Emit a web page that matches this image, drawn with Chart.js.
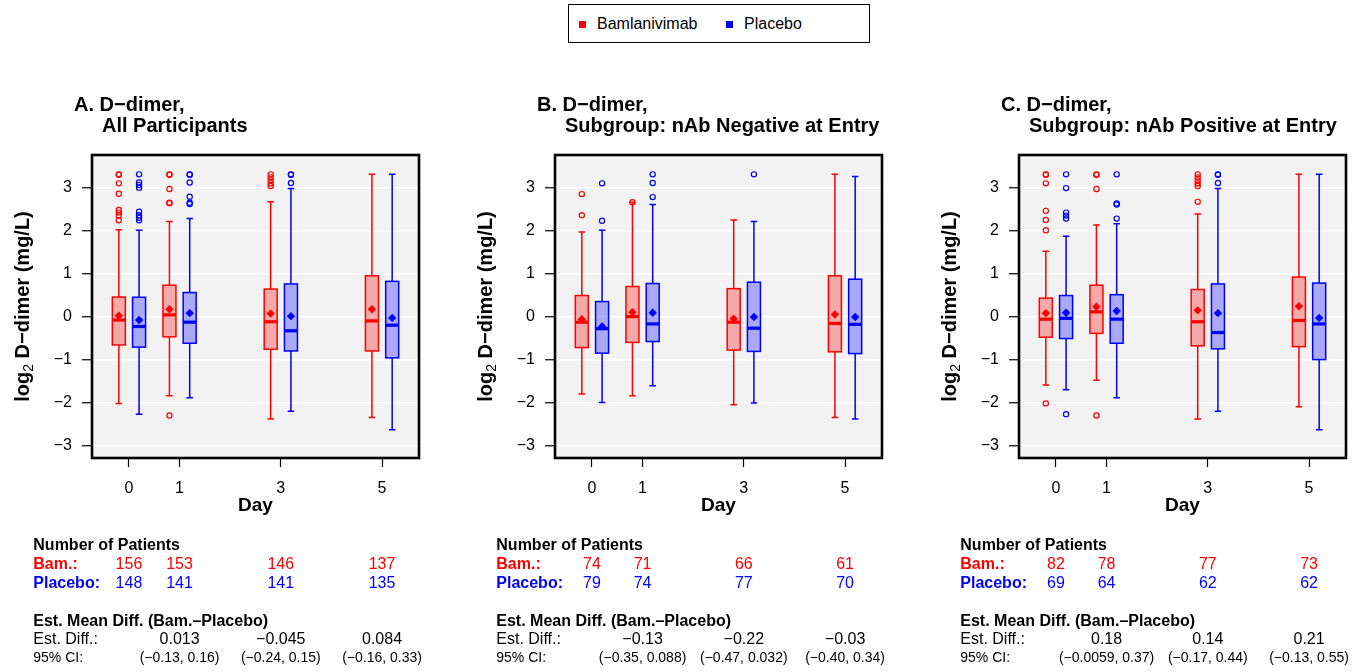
<!DOCTYPE html>
<html lang="en">
<head>
<meta charset="UTF-8">
<title>D-dimer por dia</title>
<script src="https://cdn.jsdelivr.net/npm/chart.js"></script>
<style>
  body { margin: 0; background: #fff; width: 1364px; height: 672px; overflow: hidden; position: relative;
         font-family: "Liberation Sans", Arial, sans-serif; }
  canvas { position: absolute; top: 80px; }
  .legenda { position: absolute; left: 568px; top: 4px; width: 302px; height: 39px; box-sizing: border-box;
             border: 1.5px solid #000; }
  .quad { position: absolute; top: 16px; width: 7px; height: 7px; }
  .txt { position: absolute; top: 11px; font-size: 16px; line-height: 16px; color: #000; white-space: nowrap; }
</style>
</head>
<body>

  <div class="legenda">
    <span class="quad" style="left:10px; background:#ff0000"></span>
    <span class="txt" style="left:28px">Bamlanivimab</span>
    <span class="quad" style="left:157px; background:#0000ff"></span>
    <span class="txt" style="left:175px">Placebo</span>
  </div>

  <canvas id="canvas_a" width="437" height="592" style="left:0px"></canvas>
  <canvas id="canvas_b" width="437" height="592" style="left:463px"></canvas>
  <canvas id="canvas_c" width="437" height="592" style="left:927px"></canvas>

<script>
  // dias e eixos
  var dias = [0, 1, 3, 5];
  var diasDiff = [1, 3, 5];
  var ticksY = [-3, -2, -1, 0, 1, 2, 3];

  // cada linha: [bigode inferior, Q1, mediana, Q3, bigode superior]
  // Painel A - todos
  var caixaA_bam = [[-2.01, -0.65, -0.07, 0.465, 2.03], [-1.83, -0.46, 0.05, 0.74, 2.22], [-2.37, -0.75, -0.11, 0.65, 2.68], [-2.34, -0.79, -0.09, 0.96, 3.32]];
  var caixaA_pbo = [[-2.26, -0.70, -0.22, 0.46, 2.02], [-1.88, -0.61, -0.12, 0.57, 2.29], [-2.19, -0.79, -0.32, 0.77, 2.99], [-2.62, -0.95, -0.19, 0.83, 3.32]];
  var mediaA_bam = [0.03, 0.18, 0.08, 0.18];
  var mediaA_pbo = [-0.07, 0.09, 0.02, -0.02];
  var outA_bam = [[3.32, 3.31, 3.11, 2.87, 2.49, 2.43, 2.36, 2.25], [3.32, 3.31, 2.98, 2.66, 2.65, -2.29], [3.32, 3.25, 3.18, 3.11, 3.05], []];
  var outA_pbo = [[3.32, 3.13, 3.07, 3.01, 2.45, 2.37, 2.31, 2.25], [3.32, 3.31, 3.13, 2.80, 2.66, 2.63], [3.32, 3.31, 3.12], []];
  var nA_bam = [156, 153, 146, 137];
  var nA_pbo = [148, 141, 141, 135];
  var diffA = ['0.013', '\u22120.045', '0.084'];
  var icA = ['(\u22120.13, 0.16)', '(\u22120.24, 0.15)', '(\u22120.16, 0.33)'];

  // Painel B - nAb negativo
  var caixaB_bam = [[-1.79, -0.71, -0.12, 0.50, 1.98], [-1.83, -0.59, 0.01, 0.71, 2.67], [-2.04, -0.77, -0.12, 0.66, 2.26], [-2.34, -0.81, -0.15, 0.96, 3.32]];
  var caixaB_pbo = [[-1.99, -0.84, -0.27, 0.36, 2.02], [-1.60, -0.57, -0.16, 0.78, 2.62], [-2.00, -0.80, -0.26, 0.81, 2.22], [-2.37, -0.85, -0.17, 0.88, 3.27]];
  var mediaB_bam = [-0.05, 0.11, -0.04, 0.06];
  var mediaB_pbo = [-0.22, 0.10, 0.00, 0.00];
  var outB_bam = [[2.86, 2.37], [2.67], [], []];
  var outB_pbo = [[3.11, 2.24], [3.32, 3.12, 2.79], [3.32], []];
  var nB_bam = [74, 71, 66, 61];
  var nB_pbo = [79, 74, 77, 70];
  var diffB = ['\u22120.13', '\u22120.22', '\u22120.03'];
  var icB = ['(\u22120.35, 0.088)', '(\u22120.47, 0.032)', '(\u22120.40, 0.34)'];

  // Painel C - nAb positivo
  var caixaC_bam = [[-1.58, -0.47, -0.05, 0.44, 1.53], [-1.47, -0.38, 0.12, 0.74, 2.14], [-2.37, -0.67, -0.11, 0.64, 2.40], [-2.09, -0.69, -0.08, 0.93, 3.32]];
  var caixaC_pbo = [[-1.69, -0.50, -0.03, 0.50, 1.88], [-1.88, -0.61, -0.05, 0.52, 2.17], [-2.19, -0.74, -0.36, 0.77, 2.99], [-2.62, -0.99, -0.16, 0.79, 3.32]];
  var mediaC_bam = [0.09, 0.24, 0.155, 0.25];
  var mediaC_pbo = [0.10, 0.14, 0.09, -0.02];
  var outC_bam = [[3.32, 3.31, 3.11, 2.47, 2.26, 2.02, -2.01], [3.32, 3.31, 2.98, -2.29], [3.32, 3.25, 3.18, 3.11, 3.05, 2.68], []];
  var outC_pbo = [[3.32, 3.00, 2.43, 2.36, 2.29, -2.26], [3.32, 2.64, 2.62, 2.29], [3.32, 3.31, 3.12], []];
  var nC_bam = [82, 78, 77, 73];
  var nC_pbo = [69, 64, 62, 62];
  var diffC = ['0.18', '0.14', '0.21'];
  var icC = ['(\u22120.0059, 0.37)', '(\u22120.17, 0.44)', '(\u22120.13, 0.55)'];

  var titulos = [
    ['A. D\u2212dimer,', 'All Participants'],
    ['B. D\u2212dimer,', 'Subgroup: nAb Negative at Entry'],
    ['C. D\u2212dimer,', 'Subgroup: nAb Positive at Entry']
  ];

  var FONTE = '"Liberation Sans", Arial, sans-serif';
  var VERMELHO = '#ff0000';
  var AZUL = '#0000ff';
  var desloc = 0.2;      // deslocamento de cada grupo em dias
  var largCaixa = 0.257; // largura da caixa em dias

  Chart.defaults.font.family = FONTE;
  Chart.defaults.color = '#000';

  function pontos(lista, off) {
    var r = [];
    for (var i = 0; i < lista.length; i++) {
      for (var j = 0; j < lista[i].length; j++) r.push({ x: dias[i] + off, y: lista[i][j] });
    }
    return r;
  }

  function pontosMedia(lista, off) {
    return lista.map(function (m, i) { return { x: dias[i] + off, y: m }; });
  }

  function desenhaCaixas(chart, caixas, off, cor, preench) {
    var ctx = chart.ctx, x = chart.scales.x, y = chart.scales.y;
    for (var i = 0; i < caixas.length; i++) {
      var c = caixas[i];
      var xc = x.getPixelForValue(dias[i] + off);
      var meia = x.getPixelForValue(dias[i] + off + largCaixa / 2) - xc;
      var yLo = y.getPixelForValue(c[0]), yQ1 = y.getPixelForValue(c[1]), yMed = y.getPixelForValue(c[2]);
      var yQ3 = y.getPixelForValue(c[3]), yHi = y.getPixelForValue(c[4]);
      ctx.save();
      ctx.strokeStyle = cor;
      ctx.lineWidth = 1.5;
      ctx.beginPath();
      ctx.moveTo(xc, yQ3); ctx.lineTo(xc, yHi);
      ctx.moveTo(xc, yQ1); ctx.lineTo(xc, yLo);
      ctx.moveTo(xc - meia / 2, yHi); ctx.lineTo(xc + meia / 2, yHi);
      ctx.moveTo(xc - meia / 2, yLo); ctx.lineTo(xc + meia / 2, yLo);
      ctx.stroke();
      ctx.fillStyle = preench;
      ctx.fillRect(xc - meia, yQ3, 2 * meia, yQ1 - yQ3);
      ctx.strokeRect(xc - meia, yQ3, 2 * meia, yQ1 - yQ3);
      ctx.lineWidth = 3.2;
      ctx.beginPath();
      ctx.moveTo(xc - meia, yMed); ctx.lineTo(xc + meia, yMed);
      ctx.stroke();
      ctx.restore();
    }
  }

  function criarPainel(id, titulo, caixaBam, caixaPbo, mediaBam, mediaPbo, outBam, outPbo, nBam, nPbo, diff, ic) {
    var canvas = document.getElementById(id);

    var painelPlugin = {
      id: 'painel',
      beforeDraw: function (chart) {
        var a = chart.chartArea, ctx = chart.ctx;
        ctx.save();
        ctx.fillStyle = '#f2f2f2';
        ctx.fillRect(a.left, a.top, a.right - a.left, a.bottom - a.top);
        ctx.restore();
      },
      beforeDatasetsDraw: function (chart) {
        var ctx = chart.ctx, a = chart.chartArea;
        ctx.save();
        ctx.beginPath();
        ctx.rect(a.left, a.top, a.right - a.left, a.bottom - a.top);
        ctx.clip();
        desenhaCaixas(chart, caixaBam, -desloc, VERMELHO, 'rgba(255,0,0,0.3)');
        desenhaCaixas(chart, caixaPbo, desloc, AZUL, 'rgba(0,0,255,0.3)');
        ctx.restore();
      },
      afterDraw: function (chart) {
        var ctx = chart.ctx, a = chart.chartArea, x = chart.scales.x;
        ctx.save();
        // moldura
        ctx.strokeStyle = '#000';
        ctx.lineWidth = 2.6;
        ctx.strokeRect(a.left, a.top, a.right - a.left, a.bottom - a.top);

        // titulo
        ctx.fillStyle = '#000';
        ctx.textAlign = 'left';
        ctx.textBaseline = 'alphabetic';
        ctx.font = 'bold 20px ' + FONTE;
        ctx.fillText(titulo[0], a.left - 18, 30.5);
        ctx.fillText(titulo[1], a.left + 10, 51.5);

        // eixo x
        ctx.textAlign = 'center';
        ctx.font = 'bold 19px ' + FONTE;
        ctx.fillText('Day', (a.left + a.right) / 2, 430.5);

        // eixo y com subscrito
        ctx.save();
        ctx.translate(a.left - 63.5, (a.top + a.bottom) / 2);
        ctx.rotate(-Math.PI / 2);
        ctx.textAlign = 'left';
        ctx.font = 'bold 20px ' + FONTE;
        var w1 = ctx.measureText('log').width;
        var w3 = ctx.measureText(' D\u2212dimer (mg/L)').width;
        ctx.font = '14px ' + FONTE;
        var w2 = ctx.measureText('2').width;
        var x0 = -(w1 + w2 + w3) / 2;
        ctx.font = 'bold 20px ' + FONTE;
        ctx.fillText('log', x0, 0);
        ctx.font = '14px ' + FONTE;
        ctx.fillText('2', x0 + w1, 4);
        ctx.font = 'bold 20px ' + FONTE;
        ctx.fillText(' D\u2212dimer (mg/L)', x0 + w1 + w2, 0);
        ctx.restore();

        // tabela
        var esq = a.left - 58.7;
        ctx.textAlign = 'left';
        ctx.font = 'bold 16px ' + FONTE;
        ctx.fillStyle = '#000';
        ctx.fillText('Number of Patients', esq, 470);
        ctx.fillText('Est. Mean Diff. (Bam.\u2013Placebo)', esq, 546);
        ctx.fillStyle = VERMELHO;
        ctx.fillText('Bam.:', esq, 489);
        ctx.fillStyle = AZUL;
        ctx.fillText('Placebo:', esq, 507.7);
        ctx.font = '16px ' + FONTE;
        ctx.fillStyle = '#000';
        ctx.fillText('Est. Diff.:', esq, 564);
        ctx.font = '14px ' + FONTE;
        ctx.fillText('95% CI:', esq, 581.7);

        ctx.textAlign = 'center';
        ctx.font = '16px ' + FONTE;
        for (var i = 0; i < dias.length; i++) {
          var px = x.getPixelForValue(dias[i]);
          ctx.fillStyle = VERMELHO;
          ctx.fillText(String(nBam[i]), px, 489);
          ctx.fillStyle = AZUL;
          ctx.fillText(String(nPbo[i]), px, 507.7);
        }
        ctx.fillStyle = '#000';
        for (var k = 0; k < diasDiff.length; k++) {
          var pd = x.getPixelForValue(diasDiff[k]);
          ctx.font = '16px ' + FONTE;
          ctx.fillText(diff[k], pd, 564);
          ctx.font = '14px ' + FONTE;
          ctx.fillText(ic[k], pd, 581.7);
        }
        ctx.restore();
      }
    };

    return new Chart(canvas, {
      type: 'scatter',
      data: {
        datasets: [
          { label: 'Bamlanivimab outliers', data: pontos(outBam, -desloc), pointStyle: 'circle', pointRadius: 2.6,
            pointBorderWidth: 1.2, borderColor: VERMELHO, backgroundColor: 'rgba(0,0,0,0)' },
          { label: 'Placebo outliers', data: pontos(outPbo, desloc), pointStyle: 'circle', pointRadius: 2.6,
            pointBorderWidth: 1.2, borderColor: AZUL, backgroundColor: 'rgba(0,0,0,0)' },
          { label: 'Bamlanivimab mean', data: pontosMedia(mediaBam, -desloc), pointStyle: 'rectRot', pointRadius: 4.2,
            borderWidth: 0, borderColor: VERMELHO, backgroundColor: VERMELHO },
          { label: 'Placebo mean', data: pontosMedia(mediaPbo, desloc), pointStyle: 'rectRot', pointRadius: 4.2,
            borderWidth: 0, borderColor: AZUL, backgroundColor: AZUL }
        ]
      },
      options: {
        responsive: false,
        animation: false,
        events: [],
        layout: { padding: { left: 0, top: 75, right: 18, bottom: 154 } },
        plugins: { legend: { display: false }, tooltip: { enabled: false } },
        scales: {
          x: {
            type: 'linear', min: -0.73, max: 5.73,
            afterBuildTicks: function (s) { s.ticks = dias.map(function (d) { return { value: d }; }); },
            afterFit: function (s) { s.height = 60; },
            grid: { drawOnChartArea: false, tickColor: '#000', tickLength: 9, tickWidth: 1.2 },
            border: { display: false },
            ticks: { font: { size: 16 }, color: '#000', padding: 12, maxRotation: 0 }
          },
          y: {
            type: 'linear', min: -3.28, max: 3.77,
            afterBuildTicks: function (s) { s.ticks = ticksY.map(function (v) { return { value: v }; }); },
            afterFit: function (s) { s.width = 92; },
            grid: { color: '#ffffff', lineWidth: 1.5, tickColor: '#000', tickLength: 10, tickWidth: 1.2 },
            border: { display: false },
            ticks: { font: { size: 16 }, color: '#000', padding: 10,
              callback: function (v) { return String(v).replace('-', '\u2212'); } }
          }
        }
      },
      plugins: [painelPlugin]
    });
  }

  criarPainel('canvas_a', titulos[0], caixaA_bam, caixaA_pbo, mediaA_bam, mediaA_pbo, outA_bam, outA_pbo, nA_bam, nA_pbo, diffA, icA);
  criarPainel('canvas_b', titulos[1], caixaB_bam, caixaB_pbo, mediaB_bam, mediaB_pbo, outB_bam, outB_pbo, nB_bam, nB_pbo, diffB, icB);
  criarPainel('canvas_c', titulos[2], caixaC_bam, caixaC_pbo, mediaC_bam, mediaC_pbo, outC_bam, outC_pbo, nC_bam, nC_pbo, diffC, icC);
</script>
</body>
</html>
